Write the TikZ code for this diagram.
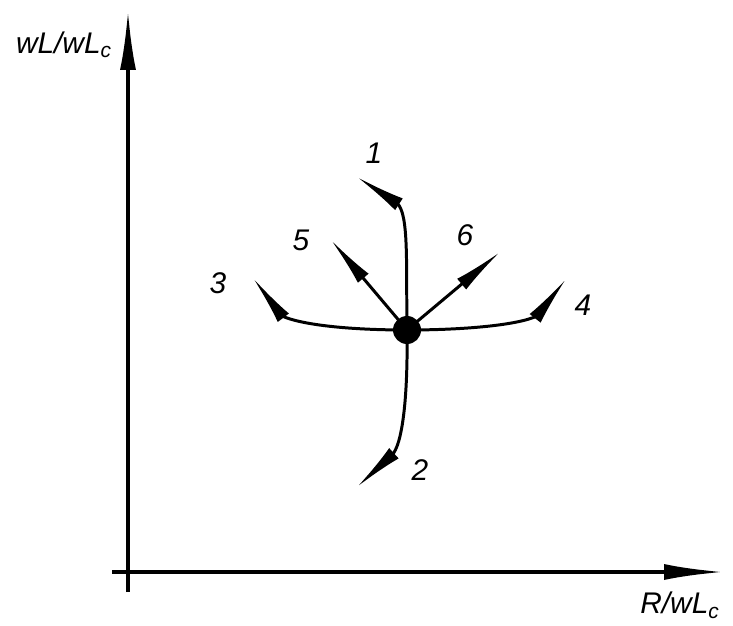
\documentclass[tikz,border=0pt]{standalone}
\usepackage{fontspec}
\setsansfont{Liberation Sans}
\usetikzlibrary{arrows.meta}
\tikzset{
  axis/.style={line width=2.2pt, -{Latex[length=1.2cm, width=0.32cm]}},
  branch/.style={line width=1.7pt, -{Latex[length=1.0cm, width=0.28cm, quick]}},
  lbl/.style={font=\sffamily\itshape\fontsize{17}{20}\selectfont, inner sep=0pt},
  dot/.style={circle, fill=black, minimum size=0.56cm, inner sep=0pt},
}
\begin{document}
\begin{tikzpicture}[x=0.02cm, y=-0.02cm]
  \useasboundingbox (0,0) rectangle (733,625);
  % axes
  \coordinate (ybot) at (128,592);
  \coordinate (ytop) at (128,10);
  \coordinate (xlft) at (112,572);
  \coordinate (xrgt) at (724,572);
  \draw[axis] (ybot) -- (ytop);
  \draw[axis] (xlft) -- (xrgt);
  \node[lbl] (ylab) at (64,45) {wL/wL\textsubscript{c}};
  \node[lbl, anchor=west] (xlab) at (640,605) {R/wL\textsubscript{c}};
  % branch ends
  \node[dot] (c) at (407,330) {};
  \coordinate (e1) at (357,177);
  \coordinate (e2) at (357,487);
  \coordinate (e3) at (253,278);
  \coordinate (e4) at (566,279);
  \coordinate (e5) at (331,240);
  \coordinate (e6) at (500,252);
  \draw[branch] (c.center) .. controls (406,262) and (409,214) .. (397,203) -- (e1);
  \draw[branch] (c.center) .. controls (408,400) and (402,445) .. (392,455) -- (e2);
  \draw[branch] (c.center) .. controls (350,330) and (302,325) .. (282,316) -- (e3);
  \draw[branch] (c.center) .. controls (465,330) and (518,325) .. (537,316) -- (e4);
  \draw[branch] (c.center) -- (e5);
  \draw[branch] (c.center) -- (e6);
  % numbers
  \node[lbl] (n1) at (374,153) {1};
  \node[lbl] (n2) at (420,470) {2};
  \node[lbl] (n3) at (218,283) {3};
  \node[lbl] (n4) at (583,305) {4};
  \node[lbl] (n5) at (301,240) {5};
  \node[lbl] (n6) at (465,235) {6};
\end{tikzpicture}
\end{document}
